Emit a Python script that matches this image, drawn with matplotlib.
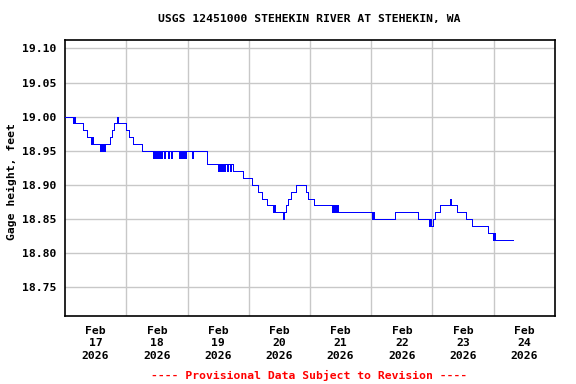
import matplotlib
matplotlib.use("Agg")
import matplotlib.pyplot as plt
from matplotlib.ticker import FixedLocator, NullFormatter

# ---- data (hours since Feb 17 2026 00:00, gage height in feet) ----
hours = [0, 3.1, 3.5, 3.9, 7.1, 8.6, 10.2, 10.6, 11.0, 13.7, 14.1, 14.5, 14.9,
         15.3, 15.7, 17.6, 18.4, 19.2, 20.4, 20.8, 23.9, 25.1, 26.6, 30.2,
         34.5, 34.8, 35.3, 35.6, 36.0, 36.3, 36.8, 37.1, 37.6, 37.9, 38.8, 39.1,
         40.3, 40.6, 41.5, 41.8, 44.7, 45.0, 45.4, 45.7, 46.2, 46.5, 47.0, 47.3,
         49.8, 50.1, 55.6, 59.9, 60.2, 60.7, 61.0, 61.5, 61.8, 62.3, 62.6,
         63.5, 63.8, 64.6, 64.9, 65.8, 69.7, 73.3, 75.6, 77.2, 79.1, 81.5, 81.8,
         82.3, 85.5, 85.8, 86.7, 87.5, 88.6, 90.5, 94.4, 95.2, 97.6,
         104.6, 104.9, 105.4, 105.7, 106.2, 106.5, 107.0, 120.3, 120.7, 121.1,
         129.3, 138.3, 142.6, 143.0, 143.3, 144.2, 145.0, 147.0, 150.8, 151.2,
         153.6, 157.1, 159.5, 165.7, 167.7, 168.0, 168.5, 175.5]
stage = [19.00, 18.99, 19.00, 18.99, 18.98, 18.97, 18.96, 18.97, 18.96, 18.95,
         18.96, 18.95, 18.96, 18.95, 18.96, 18.97, 18.98, 18.99, 19.00, 18.99,
         18.98, 18.97, 18.96, 18.95,
         18.94, 18.95, 18.94, 18.95, 18.94, 18.95, 18.94, 18.95, 18.94, 18.95,
         18.94, 18.95, 18.94, 18.95, 18.94, 18.95, 18.94, 18.95, 18.94, 18.95,
         18.94, 18.95, 18.94, 18.95, 18.94, 18.95, 18.93, 18.92, 18.93, 18.92,
         18.93, 18.92, 18.93, 18.92, 18.93, 18.92, 18.93, 18.92, 18.93, 18.92,
         18.91, 18.90, 18.89, 18.88, 18.87, 18.86, 18.87, 18.86, 18.85, 18.86,
         18.87, 18.88, 18.89, 18.90, 18.89, 18.88, 18.87,
         18.86, 18.87, 18.86, 18.87, 18.86, 18.87, 18.86, 18.85, 18.86, 18.85,
         18.86, 18.85, 18.84, 18.85, 18.84, 18.85, 18.86, 18.87, 18.88, 18.87,
         18.86, 18.85, 18.84, 18.83, 18.82, 18.83, 18.82, 18.82]

day_labels = ["Feb\n17\n2026", "Feb\n18\n2026", "Feb\n19\n2026", "Feb\n20\n2026",
              "Feb\n21\n2026", "Feb\n22\n2026", "Feb\n23\n2026", "Feb\n24\n2026"]
y_ticks = [18.75, 18.80, 18.85, 18.90, 18.95, 19.00, 19.05, 19.10]

title = "USGS 12451000 STEHEKIN RIVER AT STEHEKIN, WA"
ylabel = "Gage height, feet"
footer = "---- Provisional Data Subject to Revision ----"

FONT = "DejaVu Sans Mono"
FS = 8.2

fig = plt.figure(figsize=(5.76, 3.84), dpi=100)
ax = fig.add_axes([65/576, 1-316/384, 490/576, (316-39.5)/384])

ax.plot(hours, stage, drawstyle="steps-post", color="#0000ff", lw=0.72,
        antialiased=False, zorder=3)

ax.set_xlim(0, 24*len(day_labels))
ax.set_ylim(18.708, 19.113)

# Major ticks at noon (labels), minor at midnight (grid)
ax.xaxis.set_major_locator(FixedLocator([12 + 24*i for i in range(len(day_labels))]))
ax.set_xticklabels(day_labels)
ax.xaxis.set_minor_locator(FixedLocator([24*i for i in range(1, len(day_labels))]))
ax.xaxis.set_minor_formatter(NullFormatter())
ax.set_yticks(y_ticks)
ax.set_yticklabels([f"{v:.2f}" for v in y_ticks])

ax.grid(False)
ax.grid(True, which="minor", axis="x", color="#c8c8c8", lw=1.0)
ax.grid(True, which="major", axis="y", color="#c8c8c8", lw=1.0)
ax.set_axisbelow(True)

ax.tick_params(axis="both", which="both", length=0)
ax.tick_params(axis="y", pad=6)
ax.tick_params(axis="x", pad=7)
for lbl in ax.get_xticklabels():
    lbl.set_fontfamily(FONT); lbl.set_fontweight("bold"); lbl.set_fontsize(FS)
    lbl.set_linespacing(1.3)
for lbl in ax.get_yticklabels():
    lbl.set_fontfamily(FONT); lbl.set_fontweight("bold"); lbl.set_fontsize(FS)

for s in ax.spines.values():
    s.set_color("black"); s.set_linewidth(1.2)

fig.text(309/576, 1-19/384, title, ha="center", va="center",
         fontfamily=FONT, fontweight="bold", fontsize=FS)
fig.text(12/576, 1-182/384, ylabel, ha="center", va="center", rotation=90,
         fontfamily=FONT, fontweight="bold", fontsize=FS)
fig.text(309/576, 1-375/384, footer, ha="center", va="center", color="red",
         fontfamily=FONT, fontweight="bold", fontsize=FS)

fig.savefig("out.png", dpi=100)
